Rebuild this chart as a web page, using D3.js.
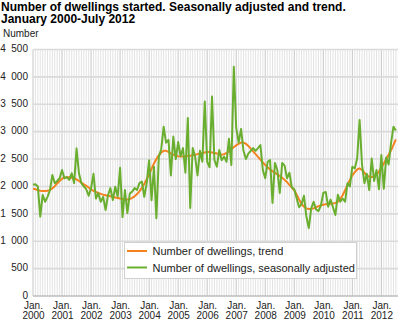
<!DOCTYPE html>
<html>
<head>
<meta charset="utf-8">
<script src="https://cdn.jsdelivr.net/npm/d3@7"></script>
<style>
  html, body { margin: 0; padding: 0; background: #fff; }
  svg { display: block; font-family: "Liberation Sans", Arial, sans-serif; }
</style>
</head>
<body>
<svg id="chart" width="398" height="323"></svg>
<script>
// ---------------- DATA ----------------
const titleLines = ["Number of dwellings started. Seasonally adjusted and trend.", "January 2000-July 2012"];
const yAxisTitle = "Number";
const yearLabels = ["2000","2001","2002","2003","2004","2005","2006","2007","2008","2009","2010","2011","2012"];
const yTicks = [0, 500, 1000, 1500, 2000, 2500, 3000, 3500, 4000, 4500];
const seriesNames = ["Number of dwellings, trend", "Number of dwellings, seasonally adjusted"];

// monthly values, January 2000 - July 2012
const trend = [
  1960,1950,1930,1920,1915,1915,1920,1935,1965,2005,2055,2100,
  2140,2160,2170,2170,2160,2150,2130,2100,2070,2040,2010,1980,
  1945,1920,1900,1880,1865,1850,1840,1830,1820,1810,1800,1790,
  1780,1770,1760,1760,1770,1790,1820,1860,1910,1975,2045,2130,
  2220,2320,2420,2500,2570,2620,2650,2650,2630,2600,2580,2560,
  2550,2545,2545,2550,2555,2560,2570,2580,2590,2600,2610,2620,
  2630,2630,2620,2610,2600,2590,2580,2590,2610,2640,2680,2720,
  2750,2780,2800,2800,2780,2740,2690,2640,2590,2540,2490,2440,
  2390,2350,2310,2280,2250,2220,2190,2160,2120,2080,2030,1980,
  1930,1850,1760,1680,1630,1600,1590,1590,1600,1620,1640,1655,
  1665,1675,1680,1685,1690,1700,1720,1770,1840,1930,2030,2120,
  2200,2260,2310,2330,2300,2250,2200,2180,2170,2180,2210,2270,
  2340,2420,2500,2580,2660,2760,2860
];
const seasonal = [
  2030,2040,2000,1450,1845,1720,1810,1930,2210,2060,2100,2150,
  2300,2150,2170,2120,2240,2060,2695,2240,2060,2000,1950,1830,
  1965,2230,1780,1875,1720,1810,1570,1840,1970,1750,1995,1815,
  2340,1440,1935,1515,1870,1905,1970,1935,2060,2090,1810,2060,
  2480,1750,2360,1420,2540,2680,3090,2800,2850,2200,2910,2500,
  2810,2550,2700,2250,3250,1605,2700,2550,2200,2650,2450,3550,
  2450,2350,3640,2480,2360,2665,2480,2545,2450,2870,2390,4185,
  3070,2800,3050,2650,2500,2600,2650,2700,2650,2700,2755,2300,
  2150,2450,2480,1700,2430,2300,1880,2430,2380,2150,2250,1980,
  1950,1780,1620,1680,1830,1450,1240,1600,1720,1580,1550,1650,
  1880,1900,1630,1760,1620,1480,1850,1720,1780,1720,2060,2000,
  2360,2330,2510,3215,2400,2060,2230,1935,2510,2100,2300,1950,
  2575,1960,2530,2400,2790,3090,3020
];

// ---------------- LAYOUT ----------------
const svg = d3.select("#chart");
const plot = { left: 33, right: 398, top: 49.5, bottom: 296 };
const nMonths = seasonal.length;

const x = d3.scaleLinear().domain([0, 151]).range([33, 398.3]);
const y = d3.scaleLinear().domain([0, 4500]).range([plot.bottom, plot.top]);

const colors = { trend: "#f5821f", seasonal: "#6aae2f" };
const fmt = d3.formatLocale({ decimal: ",", thousands: "\u00a0\u00a0", grouping: [3], currency: ["", ""] }).format(",d");

// title
svg.append("text")
  .attr("x", 1).attr("y", 10.5)
  .attr("font-size", 12).attr("font-weight", "bold").attr("fill", "#000")
  .selectAll("tspan").data(titleLines).join("tspan")
  .attr("x", 1).attr("dy", (d, i) => i === 0 ? 0 : 12.5)
  .text(d => d);

svg.append("text")
  .attr("x", 3).attr("y", 37)
  .attr("font-size", 10).attr("fill", "#222")
  .text(yAxisTitle);

// vertical monthly grid
const monthIdx = d3.range(0, nMonths + 1);
svg.append("g").selectAll("line").data(monthIdx.filter(i => i % 12 !== 0)).join("line")
  .attr("x1", d => x(d)).attr("x2", d => x(d))
  .attr("y1", plot.top).attr("y2", plot.bottom)
  .attr("stroke", "#e3e3e3").attr("stroke-width", 1);

// yearly grid
const yearIdx = yearLabels.map((d, i) => i * 12);
svg.append("g").selectAll("line").data(yearIdx).join("line")
  .attr("x1", d => x(d)).attr("x2", d => x(d))
  .attr("y1", plot.top).attr("y2", plot.bottom)
  .attr("stroke", "#c6c6c6").attr("stroke-width", 1);

// horizontal grid
svg.append("g").selectAll("line").data(yTicks).join("line")
  .attr("x1", plot.left).attr("x2", plot.right)
  .attr("y1", d => y(d)).attr("y2", d => y(d))
  .attr("stroke", d => d === 0 ? "#bdbdbd" : "#dadada").attr("stroke-width", 1.6);

// y axis labels
const yAxis = svg.append("g")
  .attr("transform", `translate(${plot.left},0)`)
  .call(d3.axisLeft(y).tickValues(yTicks).tickSize(0).tickPadding(5).tickFormat(d => fmt(d)));
yAxis.select(".domain").remove();
yAxis.selectAll("text")
  .attr("font-family", "Liberation Sans, Arial, sans-serif")
  .attr("font-size", 10).attr("fill", "#222")
  .attr("dy", "0.22em");

// x axis labels
const xAxis = svg.append("g")
  .attr("transform", `translate(0,${plot.bottom})`)
  .call(d3.axisBottom(x).tickValues(yearIdx).tickSize(0).tickFormat(""));
xAxis.select(".domain").remove();
xAxis.selectAll(".tick text").remove();
xAxis.selectAll(".tick").each(function(d, i) {
  const t = d3.select(this).append("text")
    .attr("text-anchor", "middle")
    .attr("font-family", "Liberation Sans, Arial, sans-serif")
    .attr("font-size", 10).attr("fill", "#222");
  t.append("tspan").attr("x", 0).attr("y", 12.5).text("Jan.");
  t.append("tspan").attr("x", 0).attr("y", 22.5).text(yearLabels[i]);
});

// lines
const line = d3.line().x((d, i) => x(i)).y(d => y(d)).curve(d3.curveLinear);
svg.append("path").datum(trend)
  .attr("d", line).attr("fill", "none")
  .attr("stroke", colors.trend).attr("stroke-width", 2).attr("stroke-linejoin", "round");
svg.append("path").datum(seasonal)
  .attr("d", line).attr("fill", "none")
  .attr("stroke", colors.seasonal).attr("stroke-width", 2).attr("stroke-linejoin", "round");

// legend
const lg = svg.append("g");
lg.append("rect")
  .attr("x", 124.5).attr("y", 242.5).attr("width", 232).attr("height", 36)
  .attr("fill", "#fff").attr("stroke", "#d0d0d0").attr("stroke-width", 1);
const items = [
  { name: seriesNames[0], color: colors.trend, yy: 251 },
  { name: seriesNames[1], color: colors.seasonal, yy: 267.5 }
];
items.forEach(it => {
  lg.append("line")
    .attr("x1", 127).attr("x2", 147).attr("y1", it.yy).attr("y2", it.yy)
    .attr("stroke", it.color).attr("stroke-width", 2);
  lg.append("text")
    .attr("x", 152.5).attr("y", it.yy + 4)
    .attr("font-size", 11).attr("fill", "#222")
    .text(it.name);
});
</script>
</body>
</html>
